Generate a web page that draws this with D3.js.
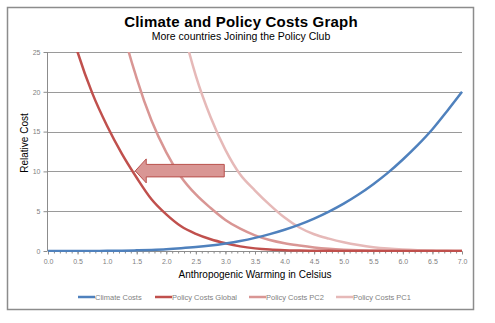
<!DOCTYPE html>
<html>
<head>
<meta charset="utf-8">
<style>
body { margin: 0; background: #fff; }
text { font-family: Arial, "Liberation Sans", sans-serif; }
</style>
</head>
<body>
<script src="https://cdn.jsdelivr.net/npm/d3@7"></script>
<script>

// warming in celsius, 0.25 steps
var warming = [0,0.25,0.5,0.75,1,1.25,1.5,1.75,2,2.25,2.5,2.75,3,3.25,3.5,3.75,4,4.25,4.5,4.75,5,5.25,5.5,5.75,6,6.25,6.5,6.75,7];

var climateCosts = [0,0,0,0.01,0.02,0.04,0.08,0.14,0.22,0.34,0.49,0.69,0.95,1.26,1.65,2.12,2.67,3.32,4.08,4.96,5.96,7.1,8.4,9.85,11.5,13.3,15.3,17.6,20];
var policyGlobal = [39,31.5,25,19.8,15.7,12.2,9.2,6.5,4.6,3.1,2.15,1.47,0.97,0.58,0.33,0.18,0.1,0.06,0.03,0.02,0.01,0,0,0,0,0,0,0,0];
var policyPC2 = [null,null,null,null,40,28.5,21.7,16.4,12.4,9.3,7.1,5.4,3.9,2.8,1.97,1.39,0.98,0.69,0.45,0.28,0.17,0.1,0.06,0.04,0.02,0.01,0.01,0,0];
var policyPC1 = [null,null,null,null,null,null,null,null,38,29,22,16.8,12.7,9.6,7.6,5.8,4.2,2.95,2.1,1.55,1.1,0.75,0.48,0.3,0.18,0.1,0.05,0.02,0.01];

var seriesNames = ["Climate Costs", "Policy Costs Global", "Policy Costs PC2", "Policy Costs PC1"];
var seriesColors = ["#4f81bd", "#c0504d", "#d99694", "#e6b9b8"];

var yTicks = [0,5,10,15,20,25];
var xTicks = [0,0.5,1,1.5,2,2.5,3,3.5,4,4.5,5,5.5,6,6.5,7];

var width = 495, height = 323;
var margin = {left: 48, right: 34, top: 52, bottom: 72};

var svg = d3.select("body").append("svg")
    .attr("width", width)
    .attr("height", height);

// chart frame
svg.append("rect")
    .attr("x", 7.5).attr("y", 7.5)
    .attr("width", 466).attr("height", 302)
    .attr("fill", "#fff")
    .attr("stroke", "#8c8c8c")
    .attr("stroke-width", 1.5);

var x = d3.scaleLinear().domain([0, 7]).range([margin.left, width - margin.right + 1]);
var y = d3.scaleLinear().domain([0, 25]).range([height - margin.bottom, margin.top]);

// titles
svg.append("text")
    .attr("x", 241).attr("y", 27)
    .attr("text-anchor", "middle")
    .style("font-size", "15px")
    .style("font-weight", "bold")
    .style("letter-spacing", "0.2px")
    .text("Climate and Policy Costs Graph");

svg.append("text")
    .attr("x", 241).attr("y", 40)
    .attr("text-anchor", "middle")
    .style("font-size", "10.5px")
    .text("More countries Joining the Policy Club");

// gridlines
svg.append("g")
    .selectAll("line")
    .data(yTicks.slice(1))
    .enter().append("line")
    .attr("x1", x(0)).attr("x2", x(7))
    .attr("y1", function(d) { return Math.round(y(d)) + 0.5; })
    .attr("y2", function(d) { return Math.round(y(d)) + 0.5; })
    .attr("stroke", "#9a9a9a");

// y axis
var yAxis = svg.append("g")
    .attr("transform", "translate(" + (x(0) - 0.5) + ",0)")
    .call(d3.axisLeft(y).tickValues(d3.range(0, 26, 1)).tickSize(2).tickFormat(""));
yAxis.call(d3.axisLeft(y).tickValues(yTicks).tickSize(4).tickFormat(d3.format("d")));
yAxis.select(".domain").remove();
svg.append("line")
    .attr("x1", x(0) - 0.5).attr("x2", x(0) - 0.5)
    .attr("y1", y(25)).attr("y2", y(0))
    .attr("stroke", "#8c8c8c");

// x axis minor + major ticks
var xAxisG = svg.append("g")
    .attr("transform", "translate(0," + (Math.round(y(0)) + 0.5) + ")");
xAxisG.append("g")
    .call(d3.axisBottom(x).tickValues(d3.range(0, 71, 1).map(function(d) { return d / 10; })).tickSize(2).tickFormat(""))
    .select(".domain").remove();
xAxisG.append("g")
    .call(d3.axisBottom(x).tickValues(xTicks).tickSize(3).tickFormat(d3.format(".1f")))
    .select(".domain").remove();
xAxisG.append("line")
    .attr("x1", x(0)).attr("x2", x(7))
    .attr("stroke", "#8c8c8c");

svg.selectAll(".tick line").attr("stroke", "#8c8c8c");
svg.selectAll(".tick text")
    .attr("fill", "#7f7f7f")
    .style("font-size", "7px")
    .style("font-family", "Arial, 'Liberation Sans', sans-serif");
xAxisG.selectAll(".tick text").attr("dy", "0.9em");

// axis titles
svg.append("text")
    .attr("x", 255).attr("y", 278)
    .attr("text-anchor", "middle")
    .style("font-size", "10px")
    .text("Anthropogenic Warming in Celsius");

svg.append("text")
    .attr("transform", "translate(28,143) rotate(-90)")
    .attr("text-anchor", "middle")
    .style("font-size", "10px")
    .text("Relative Cost");

// clip for curves
svg.append("clipPath").attr("id", "plot")
    .append("rect")
    .attr("x", x(0)).attr("y", y(25))
    .attr("width", x(7) - x(0) + 2).attr("height", y(0) - y(25) + 1);

var series = [climateCosts, policyGlobal, policyPC2, policyPC1];

var line = d3.line()
    .defined(function(d) { return d[1] != null; })
    .x(function(d) { return x(d[0]); })
    .y(function(d) { return y(d[1]); })
    .curve(d3.curveMonotoneX);

var curves = svg.append("g").attr("clip-path", "url(#plot)");
// draw lightest first so darker ones sit on top, climate on very top
[3, 2, 1, 0].forEach(function(i) {
  curves.append("path")
      .datum(warming.map(function(w, j) { return [w, series[i][j]]; }))
      .attr("fill", "none")
      .attr("stroke", seriesColors[i])
      .attr("stroke-width", 2.5)
      .attr("d", line);
});

// arrow annotation
var tipX = x(1.475), tailX = x(2.98), midY = y(10) - 0.5;
var arrow = [
  [tipX, midY],
  [tipX + 11, midY - 12],
  [tipX + 11, midY - 6.5],
  [tailX, midY - 6.5],
  [tailX, midY + 6],
  [tipX + 11, midY + 6],
  [tipX + 11, midY + 12]
];
svg.append("path")
    .attr("d", "M" + arrow.join("L") + "Z")
    .attr("fill", "#d99694")
    .attr("stroke", "#b9504c")
    .attr("stroke-width", 1);

// legend
var legendX = [78, 155, 249, 336];
var legend = svg.append("g").selectAll("g")
    .data(seriesNames)
    .enter().append("g")
    .attr("transform", function(d, i) { return "translate(" + legendX[i] + ",297)"; });
legend.append("line")
    .attr("x1", 0).attr("x2", 17)
    .attr("stroke", function(d, i) { return seriesColors[i]; })
    .attr("stroke-width", 2.5);
legend.append("text")
    .attr("x", 17).attr("y", 2.5)
    .attr("fill", "#7f7f7f")
    .style("font-size", "7.5px")
    .text(function(d) { return d; });

</script>
</body>
</html>
